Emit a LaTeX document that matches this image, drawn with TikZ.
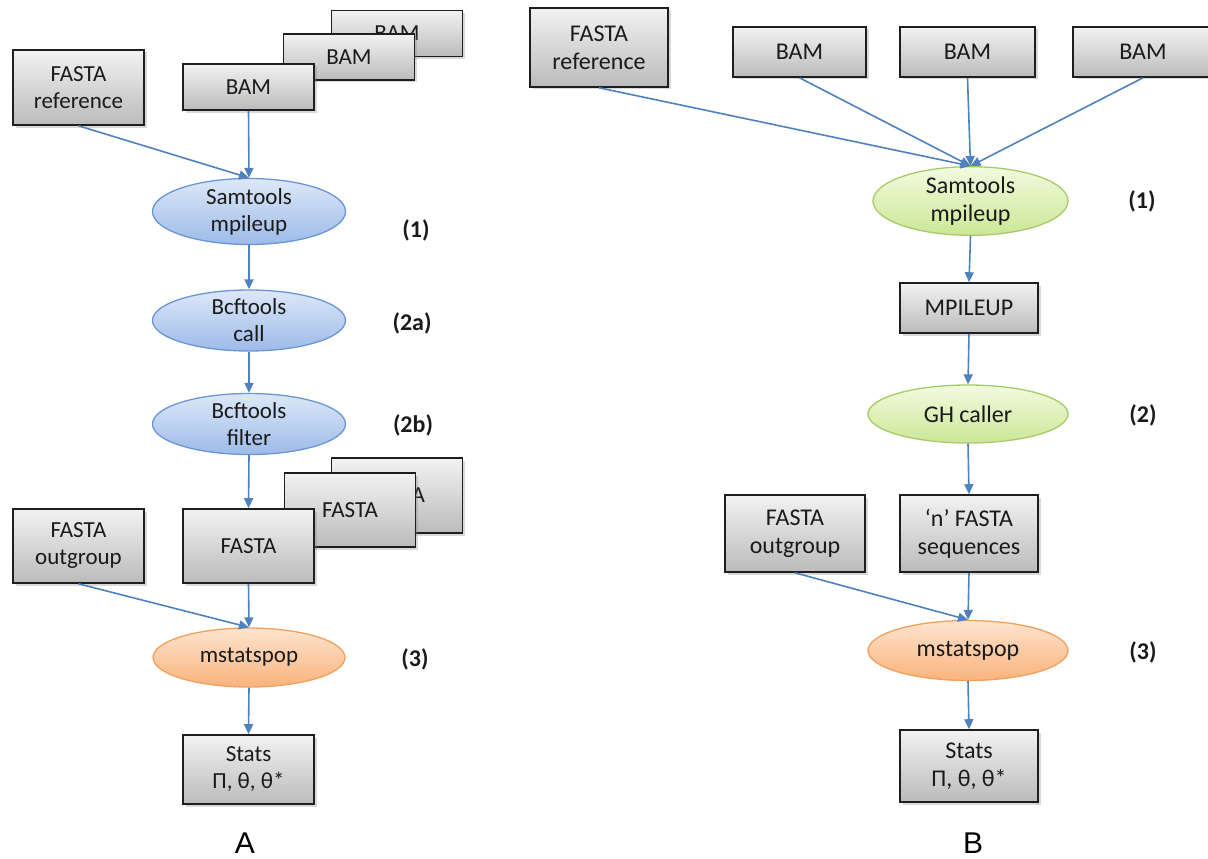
\documentclass[tikz,border=0pt]{standalone}
\usepackage{fontspec}
\setmainfont{Carlito}
\newfontfamily\letterfont{Liberation Sans}
\usetikzlibrary{shapes.geometric,arrows.meta,shadows}
\definecolor{arrowblue}{HTML}{4F81BD}
\definecolor{boxline}{HTML}{1E1E1E}
\definecolor{boxtop}{HTML}{F2F2F2}
\definecolor{boxbot}{HTML}{BBBBBB}
\definecolor{textgray}{HTML}{1A1A1A}
\definecolor{bluetop}{HTML}{DDE8F8}
\definecolor{bluebot}{HTML}{9DBAE8}
\definecolor{blueline}{HTML}{6A95D6}
\definecolor{greentop}{HTML}{F3FADF}
\definecolor{greenbot}{HTML}{CBE796}
\definecolor{greenline}{HTML}{A6CB68}
\definecolor{orangetop}{HTML}{FEE4CE}
\definecolor{orangebot}{HTML}{F9B37D}
\definecolor{orangeline}{HTML}{F2A05E}
\begin{document}
\begin{tikzpicture}[x=1pt,y=-1pt,
  box/.style={draw=boxline, line width=1.6pt, top color=boxtop, bottom color=boxbot,
    align=center, inner sep=0pt, text=textgray,
    drop shadow={shadow xshift=2.5pt, shadow yshift=-2.5pt, opacity=0.3}},
  lbox/.style={box, font=\fontsize{23}{27}\selectfont},
  rbox/.style={box, font=\fontsize{24}{28}\selectfont},
  proc/.style={ellipse, line width=1.3pt, align=center, inner sep=0pt, text=textgray},
  lproc/.style={proc, font=\fontsize{23}{27}\selectfont},
  rproc/.style={proc, font=\fontsize{24}{28}\selectfont},
  blueproc/.style={draw=blueline, top color=bluetop, bottom color=bluebot},
  greenproc/.style={draw=greenline, top color=greentop, bottom color=greenbot},
  orangeproc/.style={draw=orangeline, top color=orangetop, bottom color=orangebot},
  steplabel/.style={font=\bfseries\fontsize{24}{28}\selectfont, text=textgray},
  panellabel/.style={font=\letterfont\fontsize{30}{34}\selectfont, text=black},
  arr/.style={draw=arrowblue, line width=1.6pt, -{Triangle[length=10pt,width=9pt]}, arrowblue}
]
\useasboundingbox (0,0) rectangle (1208,859);

% ---------------- Panel A ----------------
\node[lbox, minimum width=131pt, minimum height=75pt] (aref) at (78.5,87.5) {FASTA\\reference};
\node[lbox, minimum width=131pt, minimum height=46pt] (abam3) at (397,33.5) {BAM};
\node[lbox, minimum width=131pt, minimum height=46pt] (abam2) at (349,57) {BAM};
\node[lbox, minimum width=131pt, minimum height=46pt] (abam1) at (248.5,87) {BAM};

\node[lproc, blueproc, minimum width=193pt, minimum height=55pt] (asam) at (249,211.5) {Samtools\\mpileup};
\node[lproc, blueproc, minimum width=193pt, minimum height=55pt] (acall) at (249,320.5) {Bcftools\\call};
\node[lproc, blueproc, minimum width=193pt, minimum height=58pt] (afilt) at (249,424) {Bcftools\\filter};

\node[lbox, minimum width=131pt, minimum height=75pt] (afa3) at (397,495.5) {FASTA};
\node[lbox, minimum width=131pt, minimum height=74pt] (afa2) at (350,510) {FASTA};
\node[lbox, minimum width=131pt, minimum height=74pt] (afa1) at (248.5,546) {FASTA};
\node[lbox, minimum width=131pt, minimum height=74pt] (aout) at (78.5,546) {FASTA\\outgroup};

\node[lproc, orangeproc, minimum width=192pt, minimum height=59pt] (amst) at (249,657.5) {mstatspop};
\node[lbox, minimum width=131pt, minimum height=69pt] (astat) at (248.5,769.5) {Stats\\Π, θ, θ*};

\node[steplabel] (al1) at (416,230) {(1)};
\node[steplabel] (al2a) at (412,323) {(2a)};
\node[steplabel] (al2b) at (413,425) {(2b)};
\node[steplabel] (al3) at (415,659) {(3)};
\node[panellabel] (alab) at (245,843) {A};

\draw[arr] (aref.south) -- (asam.north);
\draw[arr] (abam1.south) -- (asam.north);
\draw[arr] (asam.south) -- (acall.north);
\draw[arr] (acall.south) -- (afilt.north);
\draw[arr] (afilt.south) -- (afa1.north);
\draw[arr] (afa1.south) -- (amst.north);
\draw[arr] (aout.south) -- (amst.north);
\draw[arr] (amst.south) -- (astat.north);

% ---------------- Panel B ----------------
\node[rbox, minimum width=138pt, minimum height=79pt] (bref) at (599,47.5) {FASTA\\reference};
\node[rbox, minimum width=133pt, minimum height=50pt] (bbam1) at (799.5,52) {BAM};
\node[rbox, minimum width=135pt, minimum height=50pt] (bbam2) at (967.5,52) {BAM};
\node[rbox, minimum width=140pt, minimum height=50pt] (bbam3) at (1143,52) {BAM};

\node[rproc, greenproc, minimum width=195pt, minimum height=58pt] (bsam) at (970.5,201) {Samtools\\mpileup};
\node[rbox, minimum width=138pt, minimum height=50pt] (bmp) at (969,308) {MPILEUP};
\node[rproc, greenproc, minimum width=200pt, minimum height=58pt] (bgh) at (968,414) {GH caller};
\node[rbox, minimum width=140pt, minimum height=77pt] (bout) at (795,533.5) {FASTA\\outgroup};
\node[rbox, minimum width=138pt, minimum height=77pt] (bseq) at (969,533.5) {‘n’ FASTA\\sequences};
\node[rproc, orangeproc, minimum width=200pt, minimum height=60pt] (bmst) at (968,650.5) {mstatspop};
\node[rbox, minimum width=138pt, minimum height=72pt] (bstat) at (969,766) {Stats\\Π, θ, θ*};

\node[steplabel] (bl1) at (1142,201) {(1)};
\node[steplabel] (bl2) at (1143,415) {(2)};
\node[steplabel] (bl3) at (1143,652) {(3)};
\node[panellabel] (blab) at (973,843) {B};

\draw[arr] (bref.south) -- (bsam.north);
\draw[arr] (bbam1.south) -- (bsam.north);
\draw[arr] (bbam2.south) -- (bsam.north);
\draw[arr] (bbam3.south) -- (bsam.north);
\draw[arr] (bsam.south) -- (bmp.north);
\draw[arr] (bmp.south) -- (bgh.north);
\draw[arr] (bgh.south) -- (bseq.north);
\draw[arr] (bseq.south) -- (bmst.north);
\draw[arr] (bout.south) -- (bmst.north);
\draw[arr] (bmst.south) -- (bstat.north);
\end{tikzpicture}
\end{document}
